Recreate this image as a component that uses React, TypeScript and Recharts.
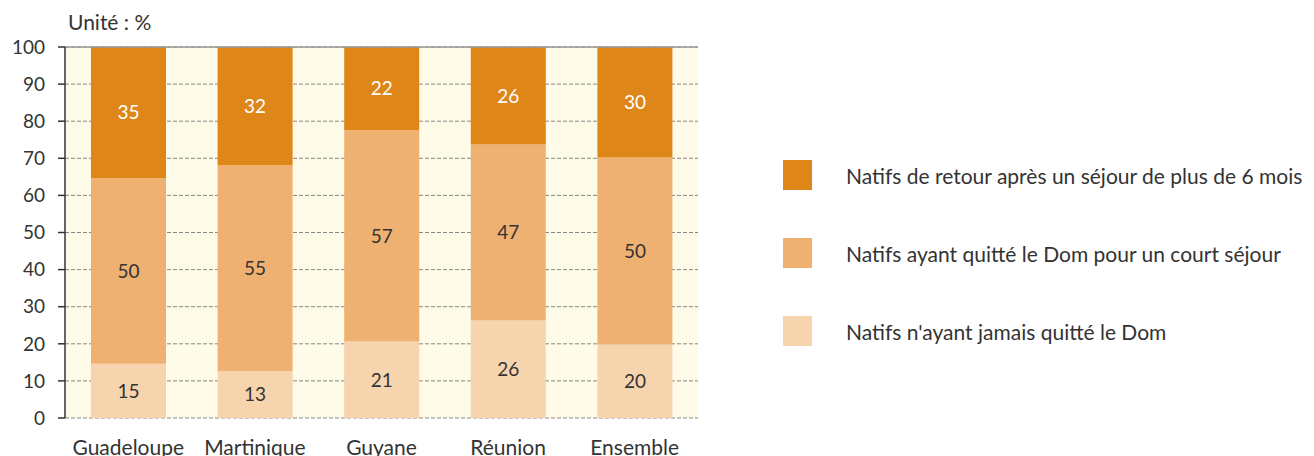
import React from 'react';
import { BarChart, Bar, XAxis, YAxis, CartesianGrid, ReferenceLine, LabelList } from 'recharts';

const categories = ['Guadeloupe', 'Martinique', 'Guyane', 'Réunion', 'Ensemble'];
const jamais = [14.6, 12.7, 20.6, 26.3, 19.8];
const court = [50.0, 55.4, 57.0, 47.4, 50.4];
const retour = [35.4, 31.9, 22.4, 26.3, 29.8];
const yTicks = [0, 10, 20, 30, 40, 50, 60, 70, 80, 90, 100];
const edgeTicks = [0, 1, 2, 3, 4, 5];

const SERIES = [
  { key: 'retour', label: 'Natifs de retour après un séjour de plus de 6 mois', color: '#DF8619', text: '#ffffff' },
  { key: 'court', label: 'Natifs ayant quitté le Dom pour un court séjour', color: '#EFB172', text: '#333333' },
  { key: 'jamais', label: "Natifs n'ayant jamais quitté le Dom", color: '#F6D4AE', text: '#333333' },
];

const data = categories.map((name, i) => ({
  name,
  jamais: jamais[i],
  court: court[i],
  retour: retour[i],
}));

const FONT = 'Lato, "Open Sans", sans-serif';

if (typeof document !== 'undefined') document.body.style.margin = '0';

export default function App() {
  const stack = [...SERIES].reverse();
  return (
    <div style={{ position: 'relative', width: 1314, height: 456, fontFamily: FONT, background: '#fff' }}>
      <div style={{ position: 'absolute', left: 68, top: 9, fontSize: 21, color: '#333', lineHeight: '25px' }}>Unité : %</div>
      <BarChart width={1314} height={456} data={data} margin={{ top: 47, right: 616, bottom: 0, left: 0 }}>
        <CartesianGrid xAxisId="cat" vertical={false} stroke="#888" strokeDasharray="4 2" fill="#FEFBE8" />
        <XAxis
          xAxisId="edge"
          type="number"
          domain={[0, 5]}
          ticks={edgeTicks}
          height={0}
          tickSize={7}
          tickFormatter={() => ''}
          axisLine={{ stroke: '#333', strokeWidth: 1.5 }}
          tickLine={{ stroke: '#333', strokeWidth: 1.5 }}
        />
        <XAxis
          xAxisId="cat"
          dataKey="name"
          height={38}
          axisLine={false}
          tickLine={false}
          tickSize={0}
          tickMargin={22}
          tick={{ fontSize: 21, fill: '#333', fontFamily: FONT }}
        />
        <YAxis
          domain={[0, 100]}
          ticks={yTicks}
          width={65}
          tickSize={7}
          tickMargin={13}
          interval={0}
          axisLine={{ stroke: '#333', strokeWidth: 1.5 }}
          tickLine={{ stroke: '#333', strokeWidth: 1.5 }}
          tick={{ fontSize: 19, fill: '#333', fontFamily: FONT }}
        />
        <YAxis yAxisId="right" orientation="right" width={0} tick={false} tickLine={false} axisLine={{ stroke: '#999' }} />
        {stack.map(s => (
          <Bar key={s.key} xAxisId="cat" dataKey={s.key} stackId="a" fill={s.color} barSize={75} isAnimationActive={false}>
            <LabelList
              dataKey={s.key}
              position="center"
              formatter={(v: number) => Math.round(v)}
              style={{ fontSize: 19, fill: s.text, fontFamily: FONT }}
            />
          </Bar>
        ))}
        <ReferenceLine xAxisId="cat" y={100} stroke="#999" strokeWidth={1.5} />
      </BarChart>
      <div style={{ position: 'absolute', left: 783, top: 160 }}>
        {SERIES.map(s => (
          <div key={s.key} style={{ display: 'flex', alignItems: 'center', height: 30, marginBottom: 48 }}>
            <div style={{ width: 29, height: 30, background: s.color }} />
            <span style={{ marginLeft: 34, fontSize: 21, color: '#333', whiteSpace: 'nowrap' }}>{s.label}</span>
          </div>
        ))}
      </div>
    </div>
  );
}
